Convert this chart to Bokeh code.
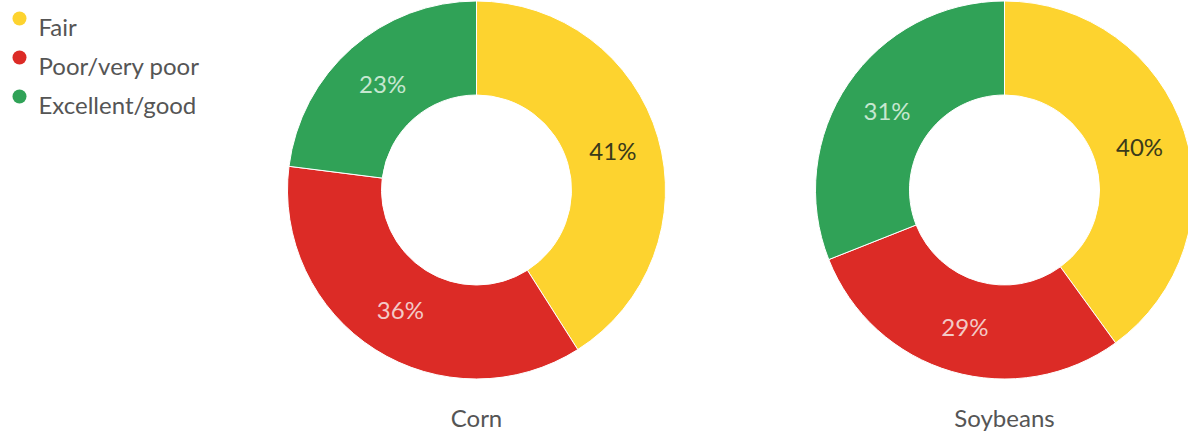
import math
from bokeh.plotting import figure
from bokeh.models import Range1d, ColumnDataSource
from bokeh.core.properties import value
from bokeh.embed import file_html
from bokeh.resources import INLINE

categories = ["Fair", "Poor/very poor", "Excellent/good"]
colors = ["#FDD32F", "#DC2B26", "#30A257"]
label_colors = ["#3a3a1a", "#f3c9c6", "#c6e7d0"]
crops = ["Corn", "Soybeans"]
corn_values = [41, 36, 23]
soy_values = [40, 29, 31]

W, H = 1188, 433
FONT = "Lato"
p = figure(width=W, height=H, output_backend="svg", toolbar_location=None,
           x_range=Range1d(0, W), y_range=Range1d(0, H), min_border=0)
p.axis.visible = False
p.grid.visible = False
p.outline_line_color = None
p.background_fill_color = "white"
p.border_fill_color = "white"

centers = [(476, H - 189.5), (1004, H - 189.5)]
R_OUT, R_IN, R_LAB = 189, 95, 142

for crop, vals, (cx, cy) in zip(crops, [corn_values, soy_values], centers):
    total = float(sum(vals))
    starts, ends, lx, ly, labels = [], [], [], [], []
    cum = 0.0
    for v in vals:
        a0 = math.pi / 2 - 2 * math.pi * cum / total
        cum += v
        a1 = math.pi / 2 - 2 * math.pi * cum / total
        starts.append(a0)
        ends.append(a1)
        mid = (a0 + a1) / 2
        lx.append(cx + R_LAB * math.cos(mid))
        ly.append(cy + R_LAB * math.sin(mid))
        labels.append(f"{v}%")
    src = ColumnDataSource(dict(x=[cx] * 3, y=[cy] * 3, s=starts, e=ends,
                                c=colors, lx=lx, ly=ly, t=labels, tc=label_colors))
    p.annular_wedge(x="x", y="y", inner_radius=R_IN, outer_radius=R_OUT,
                    start_angle="s", end_angle="e", direction="clock",
                    fill_color="c", line_color="white", line_width=1, source=src)
    p.text(x="lx", y="ly", text="t", text_color="tc", text_align="center",
           text_baseline="middle", text_font=value(FONT), text_font_size="24px",
           source=src)
    p.text(x=[cx], y=[H - 417], text=[crop], text_color="#555555", text_align="center",
           text_baseline="middle", text_font=value(FONT), text_font_size="24px")

# legend
ly0 = [H - 18 - 39 * i for i in range(3)]
p.scatter(x=[19] * 3, y=ly0, size=14, marker="circle", fill_color=colors, line_color=None)
p.text(x=[38] * 3, y=[y - 8 for y in ly0], text=categories, text_color="#555555",
       text_align="left", text_baseline="alphabetic", text_font=value(FONT),
       text_font_size="24px")

open("out.html", "w").write(file_html(p, INLINE))
